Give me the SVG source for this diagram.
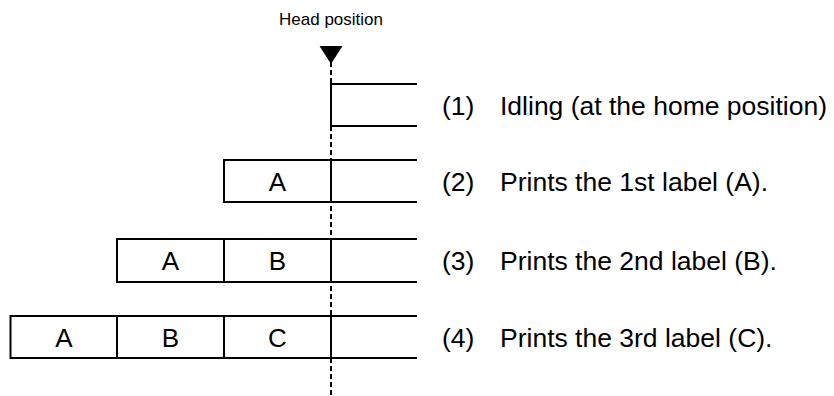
<svg xmlns="http://www.w3.org/2000/svg" width="834" height="396" viewBox="0 0 834 396">
<style>
.ln{stroke:#000;stroke-width:2;fill:none}
.dash{stroke:#000;stroke-width:2;stroke-dasharray:5 3;fill:none}
.t{font-family:"Liberation Sans",Arial,sans-serif;font-size:26.5px;fill:#000}
.c{font-family:"Liberation Sans",Arial,sans-serif;font-size:26px;fill:#000;text-anchor:middle}
.h{font-family:"Liberation Sans",Arial,sans-serif;font-size:17px;fill:#000;text-anchor:middle}
</style>
<rect width="834" height="396" fill="#fff"/>
<g id="head">
<text class="h" x="331" y="25">Head position</text>
<polygon points="319.5,46 342.5,46 331,64" fill="#000"/>
</g>
<g id="connectors">
<line class="dash" x1="331" y1="62" x2="331" y2="396"/>
</g>
<g id="row1">
<path class="ln" d="M417,84 H331 V126 H417"/>
<text class="t" x="442" y="114.5">(1)</text>
<text class="t" x="500" y="114.5">Idling (at the home position)</text>
</g>
<g id="row2">
<rect class="ln" x="224" y="160" width="107" height="42"/>
<path class="ln" d="M331,160 H417 M331,202 H417"/>
<text class="c" x="277.5" y="190.5">A</text>
<text class="t" x="442" y="190.5">(2)</text>
<text class="t" x="500" y="190.5">Prints the 1st label (A).</text>
</g>
<g id="row3">
<rect class="ln" x="117" y="239" width="214" height="43"/>
<line class="ln" x1="224" y1="239" x2="224" y2="282"/>
<path class="ln" d="M331,239 H417 M331,282 H417"/>
<text class="c" x="170.5" y="270">A</text>
<text class="c" x="277.5" y="270">B</text>
<text class="t" x="442" y="270">(3)</text>
<text class="t" x="500" y="270">Prints the 2nd label (B).</text>
</g>
<g id="row4">
<rect class="ln" x="10.5" y="316" width="320.5" height="42"/>
<line class="ln" x1="117" y1="316" x2="117" y2="358"/>
<line class="ln" x1="224" y1="316" x2="224" y2="358"/>
<path class="ln" d="M331,316 H417 M331,358 H417"/>
<text class="c" x="64" y="346.5">A</text>
<text class="c" x="170.5" y="346.5">B</text>
<text class="c" x="277.5" y="346.5">C</text>
<text class="t" x="442" y="346.5">(4)</text>
<text class="t" x="500" y="346.5">Prints the 3rd label (C).</text>
</g>
</svg>
